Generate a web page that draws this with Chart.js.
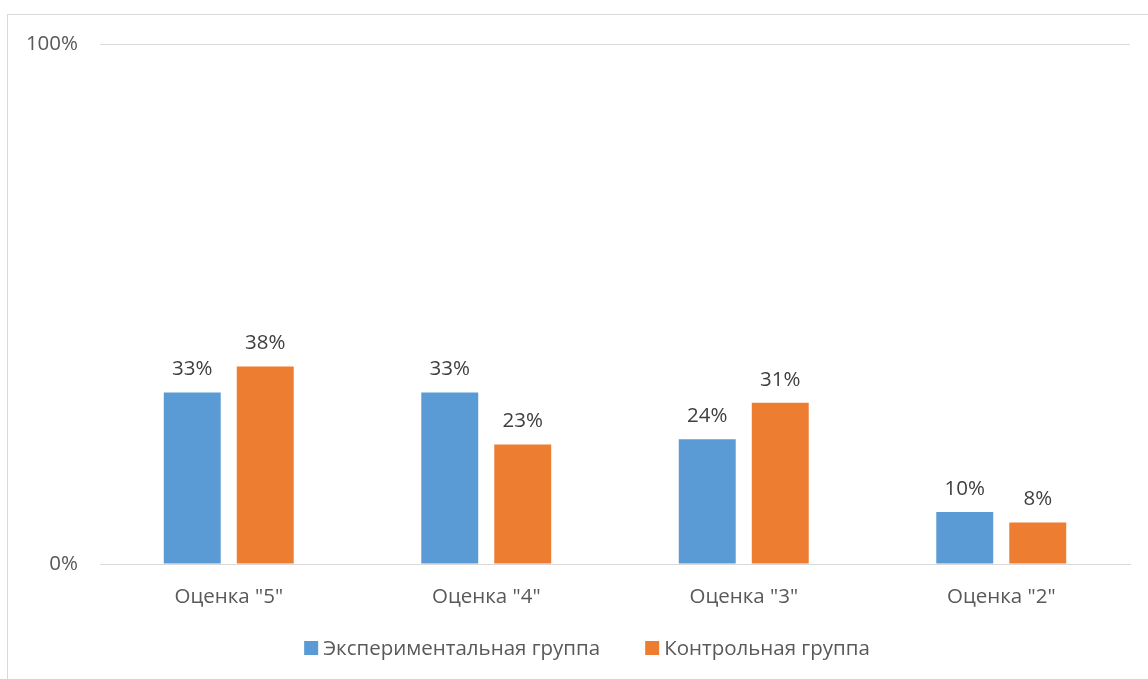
<!DOCTYPE html>
<html>
<head>
<meta charset="utf-8">
<script src="https://cdn.jsdelivr.net/npm/chart.js@4/dist/chart.umd.min.js"></script>
<style>
  html, body { margin: 0; padding: 0; background: #fff; }
  #frame {
    position: absolute; left: 7px; top: 14px;
    width: 1160px; height: 700px;
    border: 1px solid #d9d9d9; box-sizing: border-box;
  }
  #wrap { position: absolute; left: 0; top: 0; width: 1148px; height: 679px; }
</style>
</head>
<body>
<div id="frame"></div>
<div id="wrap"><canvas id="gradesChart" width="1148" height="679"></canvas></div>
<script>
// Распределение оценок по группам, %
const categories = ['Оценка "5"', 'Оценка "4"', 'Оценка "3"', 'Оценка "2"'];
const experimental = [33, 33, 24, 10];
const control = [38, 23, 31, 8];
const seriesNames = ['Экспериментальная группа', 'Контрольная группа'];
const yTicks = [0, 100];

const FONT = '"Open Sans", "Noto Sans", sans-serif';
const SIZE = 20.5;
const TEXT = '#595959';

// подписи значений над столбцами
const valueLabels = {
    id: 'valueLabels',
    afterDatasetsDraw(chart) {
        const ctx = chart.ctx;
        ctx.save();
        ctx.font = SIZE + 'px ' + FONT;
        ctx.fillStyle = '#404040';
        ctx.textAlign = 'center';
        ctx.textBaseline = 'middle';
        chart.data.datasets.forEach((ds, i) => {
            chart.getDatasetMeta(i).data.forEach((bar, j) => {
                ctx.fillText(ds.data[j] + '%', bar.x, bar.y - 23);
            });
        });
        ctx.restore();
    }
};

// легенда снизу: квадрат вплотную к тексту, центр по рамке
const bottomLegend = {
    id: 'bottomLegend',
    afterDraw(chart) {
        const ctx = chart.ctx;
        const box = 14, gapText = 5, gapItem = 45, y = 648, centerX = 587;
        ctx.save();
        ctx.font = SIZE + 'px ' + FONT;
        ctx.textBaseline = 'middle';
        const items = chart.data.datasets.map(ds => ({
            text: ds.label, color: ds.backgroundColor,
            w: box + gapText + ctx.measureText(ds.label).width
        }));
        const total = items.reduce((s, it) => s + it.w, 0) + gapItem * (items.length - 1);
        let x = centerX - total / 2;
        items.forEach(it => {
            ctx.fillStyle = it.color;
            ctx.fillRect(x, y - box / 2, box, box);
            ctx.fillStyle = TEXT;
            ctx.fillText(it.text, x + box + gapText, y + 1);
            x += it.w + gapItem;
        });
        ctx.restore();
    }
};

const ctx = document.getElementById('gradesChart').getContext('2d');
new Chart(ctx, {
    type: 'bar',
    data: {
        labels: categories,
        datasets: [
            {
                label: seriesNames[0],
                data: experimental,
                backgroundColor: '#5b9bd5'
            },
            {
                label: seriesNames[1],
                data: control,
                backgroundColor: '#ed7d31'
            }
        ]
    },
    options: {
        responsive: false,
        animation: false,
        categoryPercentage: 0.567,
        barPercentage: 0.78,
        layout: { padding: { left: 0, right: 18, top: 44, bottom: 0 } },
        plugins: {
            legend: { display: false },
            tooltip: { enabled: false }
        },
        scales: {
            x: {
                afterFit(scale) { scale.height = 115; },
                grid: { display: false, drawTicks: false },
                border: { color: '#d9d9d9', width: 1 },
                ticks: {
                    color: TEXT,
                    padding: 21,
                    maxRotation: 0,
                    font: { family: FONT, size: SIZE }
                }
            },
            y: {
                min: yTicks[0],
                max: yTicks[yTicks.length - 1],
                afterFit(scale) { scale.width = 100; },
                afterBuildTicks(scale) {
                    scale.ticks = yTicks.map(v => ({ value: v }));
                },
                grid: { color: '#d9d9d9', drawTicks: false },
                border: { display: false },
                ticks: {
                    color: TEXT,
                    padding: 22,
                    font: { family: FONT, size: SIZE },
                    callback: v => v + '%'
                }
            }
        }
    },
    plugins: [valueLabels, bottomLegend]
});
</script>
</body>
</html>
